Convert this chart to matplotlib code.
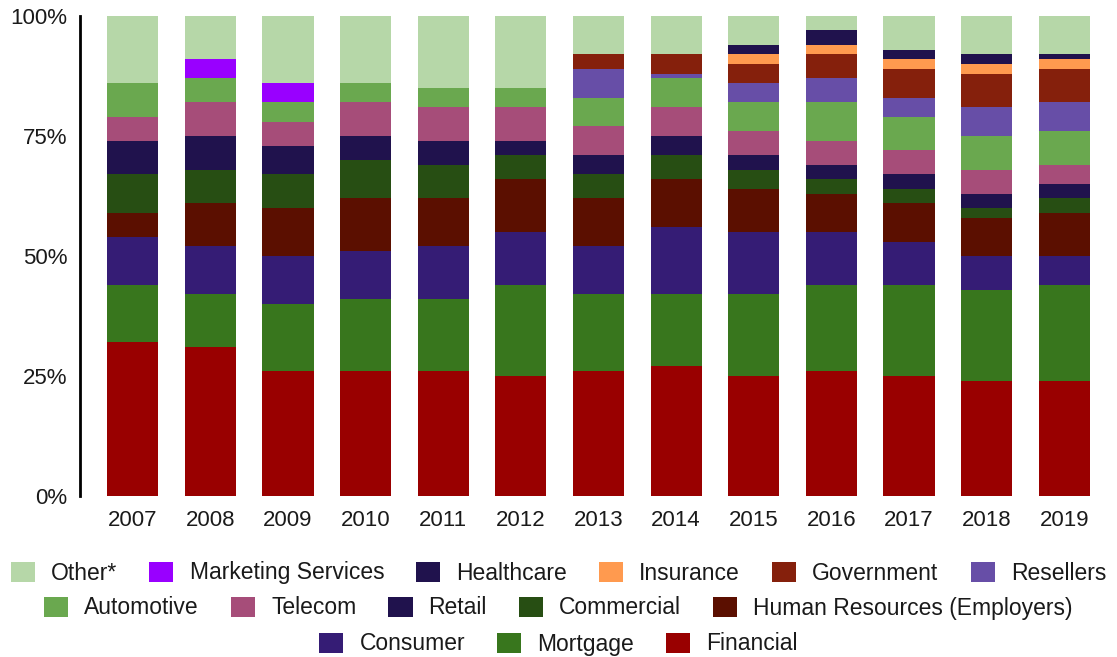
import numpy as np
import matplotlib
matplotlib.use('Agg')
import matplotlib.pyplot as plt
from matplotlib.patches import Patch
from matplotlib.ticker import PercentFormatter

plt.rcParams['font.family'] = ['Liberation Sans', 'DejaVu Sans']

years = ['2007', '2008', '2009', '2010', '2011', '2012', '2013',
         '2014', '2015', '2016', '2017', '2018', '2019']

# share per year (%), stacked bottom -> top
financial = [32, 31, 26, 26, 26, 25, 26, 27, 25, 26, 25, 24, 24]
mortgage = [12, 11, 14, 15, 15, 19, 16, 15, 17, 18, 19, 19, 20]
consumer = [10, 10, 10, 10, 11, 11, 10, 14, 13, 11, 9, 7, 6]
human_resources = [5, 9, 10, 11, 10, 11, 10, 10, 9, 8, 8, 8, 9]
commercial = [8, 7, 7, 8, 7, 5, 5, 5, 4, 3, 3, 2, 3]
retail = [7, 7, 6, 5, 5, 3, 4, 4, 3, 3, 3, 3, 3]
telecom = [5, 7, 5, 7, 7, 7, 6, 6, 5, 5, 5, 5, 4]
automotive = [7, 5, 4, 4, 4, 4, 6, 6, 6, 8, 7, 7, 7]
resellers = [0, 0, 0, 0, 0, 0, 6, 1, 4, 5, 4, 6, 6]
government = [0, 0, 0, 0, 0, 0, 3, 4, 4, 5, 6, 7, 7]
insurance = [0, 0, 0, 0, 0, 0, 0, 0, 2, 2, 2, 2, 2]
healthcare = [0, 0, 0, 0, 0, 0, 0, 0, 2, 3, 2, 2, 1]
marketing = [0, 4, 4, 0, 0, 0, 0, 0, 0, 0, 0, 0, 0]
other = [14, 9, 14, 14, 15, 15, 8, 8, 6, 3, 7, 8, 8]

series = [
    ('Financial', financial, '#990000'),
    ('Mortgage', mortgage, '#38761d'),
    ('Consumer', consumer, '#351c75'),
    ('Human Resources (Employers)', human_resources, '#5b0f00'),
    ('Commercial', commercial, '#274e13'),
    ('Retail', retail, '#20124d'),
    ('Telecom', telecom, '#a64d79'),
    ('Automotive', automotive, '#6aa84f'),
    ('Resellers', resellers, '#674ea7'),
    ('Government', government, '#85200c'),
    ('Insurance', insurance, '#ff9a4f'),
    ('Healthcare', healthcare, '#20124d'),
    ('Marketing Services', marketing, '#9900ff'),
    ('Other*', other, '#b6d7a8'),
]

fig = plt.figure(figsize=(11.17, 6.57), dpi=100)
ax = fig.add_axes([80 / 1117, 1 - 496 / 657, 1 - 80 / 1117, 480 / 657])

x = np.arange(len(years))
bottom = np.zeros(len(years))
for name, vals, col in series:
    vals = np.array(vals, dtype=float)
    ax.bar(x, vals, 0.66, bottom=bottom, color=col, label=name)
    bottom += vals

ax.set_xlim(-0.68, len(years) - 1 + 0.68)
ax.set_ylim(0, 100)
ax.set_yticks([0, 25, 50, 75, 100])
ax.yaxis.set_major_formatter(PercentFormatter(decimals=0))
ax.set_xticks(x)
ax.set_xticklabels(years)
ax.tick_params(length=0, labelsize=16, labelcolor='#1a1a1a')
ax.tick_params(axis='y', pad=9)
ax.tick_params(axis='x', pad=10)
for s in ['top', 'right', 'bottom']:
    ax.spines[s].set_visible(False)
ax.spines['left'].set_linewidth(2)
ax.spines['left'].set_color('#000000')

# legend: three centred rows, reverse of stack order
rev = series[::-1]
rows = [rev[0:6], rev[6:11], rev[11:14]]
row_y = [1 - 573 / 657, 1 - 608 / 657, 1 - 644 / 657]
for items, yy in zip(rows, row_y):
    handles = [Patch(facecolor=c, edgecolor='none', label=n) for n, v, c in items]
    fig.legend(handles=handles, loc='center', bbox_to_anchor=(0.5, yy),
               ncol=len(items), frameon=False, fontsize=16.5,
               handlelength=1.05, handleheight=0.95, handletextpad=0.7,
               columnspacing=1.4, labelcolor='#1a1a1a', borderpad=0)

fig.savefig('out.png', dpi=100)
